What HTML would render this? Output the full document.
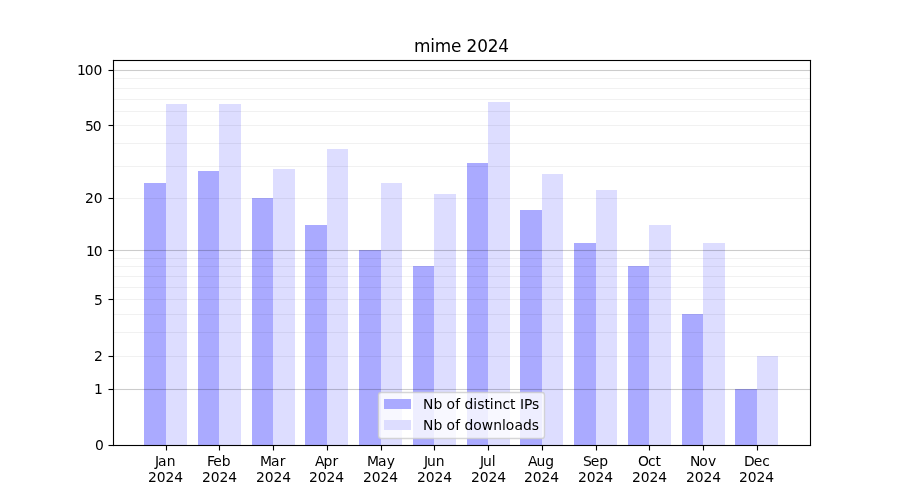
<!DOCTYPE html>
<html lang="en">
<head>
<meta charset="utf-8">
<title>mime 2024</title>
<style>
html,body{margin:0;padding:0;background:#fff;}
body{width:900px;height:500px;overflow:hidden;}
svg{display:block;}
text{font-family:"DejaVu Sans","Liberation Sans",sans-serif;font-size:13.8889px;fill:#000;}
.title{font-size:16.9000px;}
.bar1{fill:#aaf;}
.bar2{fill:#ddf;}
.grid{fill:#000;fill-opacity:0.055;}
.major{fill:#000;fill-opacity:0.200;}
.ax{stroke:#000;stroke-width:1.1111;fill:none;}
</style>
</head>
<body>
<svg width="900" height="500" viewBox="0 0 900 500">
<rect x="0" y="0" width="900" height="500" fill="#fff"/>
<g shape-rendering="crispEdges">
<rect class="bar1" x="144" y="183" width="22" height="263"/>
<rect class="bar2" x="166" y="104" width="21" height="342"/>
<rect class="bar1" x="198" y="171" width="21" height="275"/>
<rect class="bar2" x="219" y="104" width="22" height="342"/>
<rect class="bar1" x="252" y="198" width="21" height="248"/>
<rect class="bar2" x="273" y="169" width="22" height="277"/>
<rect class="bar1" x="305" y="225" width="22" height="221"/>
<rect class="bar2" x="327" y="149" width="21" height="297"/>
<rect class="bar1" x="359" y="250" width="22" height="196"/>
<rect class="bar2" x="381" y="183" width="21" height="263"/>
<rect class="bar1" x="413" y="266" width="21" height="180"/>
<rect class="bar2" x="434" y="194" width="22" height="252"/>
<rect class="bar1" x="467" y="163" width="21" height="283"/>
<rect class="bar2" x="488" y="102" width="22" height="344"/>
<rect class="bar1" x="520" y="210" width="22" height="236"/>
<rect class="bar2" x="542" y="174" width="21" height="272"/>
<rect class="bar1" x="574" y="243" width="22" height="203"/>
<rect class="bar2" x="596" y="190" width="21" height="256"/>
<rect class="bar1" x="628" y="266" width="21" height="180"/>
<rect class="bar2" x="649" y="225" width="22" height="221"/>
<rect class="bar1" x="682" y="314" width="21" height="132"/>
<rect class="bar2" x="703" y="243" width="22" height="203"/>
<rect class="bar1" x="735" y="389" width="22" height="57"/>
<rect class="bar2" x="757" y="356" width="21" height="90"/>
</g>
<g>
<rect class="grid" x="113" y="78" width="698" height="1"/>
<rect class="grid" x="113" y="88" width="698" height="1"/>
<rect class="grid" x="113" y="99" width="698" height="1"/>
<rect class="grid" x="113" y="111" width="698" height="1"/>
<rect class="grid" x="113" y="125" width="698" height="1"/>
<rect class="grid" x="113" y="143" width="698" height="1"/>
<rect class="grid" x="113" y="166" width="698" height="1"/>
<rect class="grid" x="113" y="198" width="698" height="1"/>
<rect class="grid" x="113" y="258" width="698" height="1"/>
<rect class="grid" x="113" y="266" width="698" height="1"/>
<rect class="grid" x="113" y="276" width="698" height="1"/>
<rect class="grid" x="113" y="287" width="698" height="1"/>
<rect class="grid" x="113" y="299" width="698" height="1"/>
<rect class="grid" x="113" y="314" width="698" height="1"/>
<rect class="grid" x="113" y="332" width="698" height="1"/>
<rect class="grid" x="113" y="356" width="698" height="1"/>
<rect class="major" x="113" y="69.9445" width="698" height="1.1111"/>
<rect class="major" x="113" y="249.9444" width="698" height="1.1111"/>
<rect class="major" x="113" y="388.9445" width="698" height="1.1111"/>
</g>
<g fill="#000">
<rect x="165.9444" y="445.5" width="1.1111" height="5"/>
<rect x="218.9444" y="445.5" width="1.1111" height="5"/>
<rect x="272.9445" y="445.5" width="1.1111" height="5"/>
<rect x="326.9445" y="445.5" width="1.1111" height="5"/>
<rect x="380.9445" y="445.5" width="1.1111" height="5"/>
<rect x="433.9445" y="445.5" width="1.1111" height="5"/>
<rect x="487.9445" y="445.5" width="1.1111" height="5"/>
<rect x="541.9444" y="445.5" width="1.1111" height="5"/>
<rect x="595.9444" y="445.5" width="1.1111" height="5"/>
<rect x="648.9444" y="445.5" width="1.1111" height="5"/>
<rect x="702.9444" y="445.5" width="1.1111" height="5"/>
<rect x="756.9444" y="445.5" width="1.1111" height="5"/>
<rect x="108.5" y="444.9445" width="5" height="1.1111"/>
<rect x="108.5" y="388.9445" width="5" height="1.1111"/>
<rect x="108.5" y="355.9445" width="5" height="1.1111"/>
<rect x="108.5" y="298.9445" width="5" height="1.1111"/>
<rect x="108.5" y="249.9444" width="5" height="1.1111"/>
<rect x="108.5" y="197.9444" width="5" height="1.1111"/>
<rect x="108.5" y="124.9445" width="5" height="1.1111"/>
<rect x="108.5" y="69.9445" width="5" height="1.1111"/>
<rect x="112.9445" y="59.9445" width="1.1111" height="386.1111"/>
<rect x="809.9444" y="59.9445" width="1.1111" height="386.1111"/>
<rect x="112.9445" y="444.9445" width="698.1111" height="1.1111"/>
<rect x="112.9445" y="59.9445" width="698.1111" height="1.1111"/>
</g>
<g>
<text x="155 158 166.75" y="466">Jan</text>
<text x="148 156.75 165.5 174.25" y="482">2024</text>
<text x="207 213.25 221.75" y="466">Feb</text>
<text x="202 210.75 219.5 228.25" y="482">2024</text>
<text x="260 271 279.75" y="466">Mar</text>
<text x="256 264.75 273.5 282.25" y="482">2024</text>
<text x="315 323.5 332.5" y="466">Apr</text>
<text x="309 317.75 326.5 335.25" y="482">2024</text>
<text x="367 378 386.75" y="466">May</text>
<text x="363 371.75 380.5 389.25" y="482">2024</text>
<text x="424 427 435.75" y="466">Jun</text>
<text x="417 425.75 434.5 443.25" y="482">2024</text>
<text x="480 483 491.75" y="466">Jul</text>
<text x="471 479.75 488.5 497.25" y="482">2024</text>
<text x="528 536.5 545.25" y="466">Aug</text>
<text x="524 532.75 541.5 550.25" y="482">2024</text>
<text x="583 590.75 599.25" y="466">Sep</text>
<text x="578 586.75 595.5 604.25" y="482">2024</text>
<text x="638 648 655.5" y="466">Oct</text>
<text x="632 640.75 649.5 658.25" y="482">2024</text>
<text x="690 699.25 708" y="466">Nov</text>
<text x="686 694.75 703.5 712.25" y="482">2024</text>
<text x="744 753.75 762.25" y="466">Dec</text>
<text x="739 747.75 756.5 765.25" y="482">2024</text>
<text x="95" y="450">0</text>
<text x="94" y="394">1</text>
<text x="94" y="361">2</text>
<text x="94" y="305">5</text>
<text x="86 93.75" y="256">10</text>
<text x="85 93.75" y="203">20</text>
<text x="85 92.75" y="131">50</text>
<text x="77 84.75 93.5" y="75">100</text>
</g>
<text class="title" x="414 430.25 434.75 451 461.25 466.5 477.25 487.75 498.25" y="52">mime 2024</text>
<path d="M381.28 438.50 L541.72 438.50 Q544.50 438.50 544.50 435.72 L544.50 395.28 Q544.50 392.50 541.72 392.50 L381.28 392.50 Q378.50 392.50 378.50 395.28 L378.50 435.72 Q378.50 438.50 381.28 438.50 Z" fill="#fff" fill-opacity=".8" stroke="#ccc" stroke-opacity=".8" stroke-width="1.3889"/>
<g shape-rendering="crispEdges">
<rect class="bar1" x="384" y="399" width="27" height="10"/>
<rect class="bar2" x="384" y="420" width="27" height="10"/>
</g>
<text x="423 433.5 442.25 446.5 455.25 460 464.5 473.25 477.25 484.5 489.75 493.75 502.5 510 515.5 520 524 532" y="409">Nb of distinct IPs</text>
<text x="423 433.5 442.25 446.5 455.25 460 464.5 473.25 481.75 493.25 502 505.75 514.5 523 531.75" y="430">Nb of downloads</text>
</svg>
</body>
</html>
